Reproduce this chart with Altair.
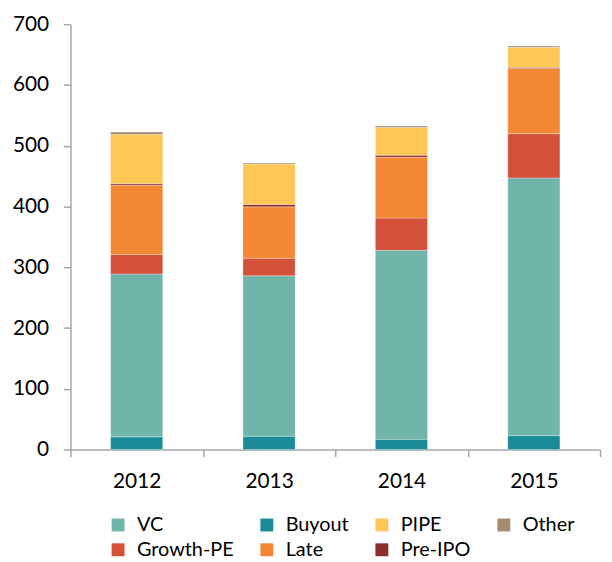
import altair as alt
import pandas as pd

years = ["2012", "2013", "2014", "2015"]
# stacking order bottom -> top
stack_series = ["Buyout", "VC", "Growth-PE", "Late", "Pre-IPO", "PIPE", "Other"]
buyout = [21, 22, 17, 23]
vc = [268, 264, 311, 424]
growth_pe = [32, 29, 53, 73]
late = [114, 84.5, 100, 107.5]
pre_ipo = [2.5, 4, 3.5, 1.5]
pipe = [81, 66.5, 45.5, 33]
other = [4, 1.5, 2.5, 2]

legend_order = ["VC", "Buyout", "PIPE", "Other", "Growth-PE", "Late", "Pre-IPO"]
legend_colors = ["#6FB5AA", "#1B8B99", "#FEC655", "#A68C6E", "#D35039", "#F48733", "#8B2E2E"]

values = {
    "Buyout": buyout, "VC": vc, "Growth-PE": growth_pe, "Late": late,
    "Pre-IPO": pre_ipo, "PIPE": pipe, "Other": other,
}
rows = []
for si, s in enumerate(stack_series):
    for yi, y in enumerate(years):
        rows.append({"year": y, "series": s, "value": values[s][yi], "order": si})
df = pd.DataFrame(rows)

FONT = "Lato"
AX = "#A6A6A6"
FS = 21

chart = alt.Chart(df).mark_bar(
    width=alt.RelativeBandSize(0.394), stroke="white", strokeWidth=0.6, strokeOpacity=0.5
).encode(
    x=alt.X("year:N", sort=years, title=None,
            scale=alt.Scale(paddingInner=0, paddingOuter=0),
            axis=alt.Axis(labelAngle=0, tickBand="extent", tickSize=7, tickWidth=1.5,
                          tickColor=AX, domainColor=AX, domainWidth=1.5,
                          labelFont=FONT, labelFontSize=FS, labelColor="#000000",
                          labelPadding=14)),
    y=alt.Y("value:Q", title=None, stack="zero",
            scale=alt.Scale(domain=[0, 700], nice=False),
            axis=alt.Axis(values=[0, 100, 200, 300, 400, 500, 600, 700], grid=False,
                          tickSize=7, tickWidth=1.5, tickColor=AX, domainColor=AX,
                          domainWidth=1.5, labelFont=FONT, labelFontSize=FS,
                          labelColor="#000000", labelPadding=15)),
    color=alt.Color("series:N", title=None,
                    scale=alt.Scale(domain=legend_order, range=legend_colors),
                    legend=alt.Legend(orient="none", legendX=38, legendY=495,
                                      direction="horizontal", columns=4,
                                      symbolType="square", symbolSize=169,
                                      symbolStrokeWidth=0, labelFont=FONT,
                                      labelFontSize=20, labelColor="#000000",
                                      labelOffset=9, columnPadding=23, rowPadding=5,
                                      padding=0)),
    order=alt.Order("order:Q", sort="ascending"),
).properties(
    width=534, height=429,
    autosize=alt.AutoSizeParams(type="none"),
    padding={"left": 63, "top": 14, "right": 4, "bottom": 111},
).configure_view(stroke=None)

chart.save("out.html", embed_options={"renderer": "svg", "actions": False})
